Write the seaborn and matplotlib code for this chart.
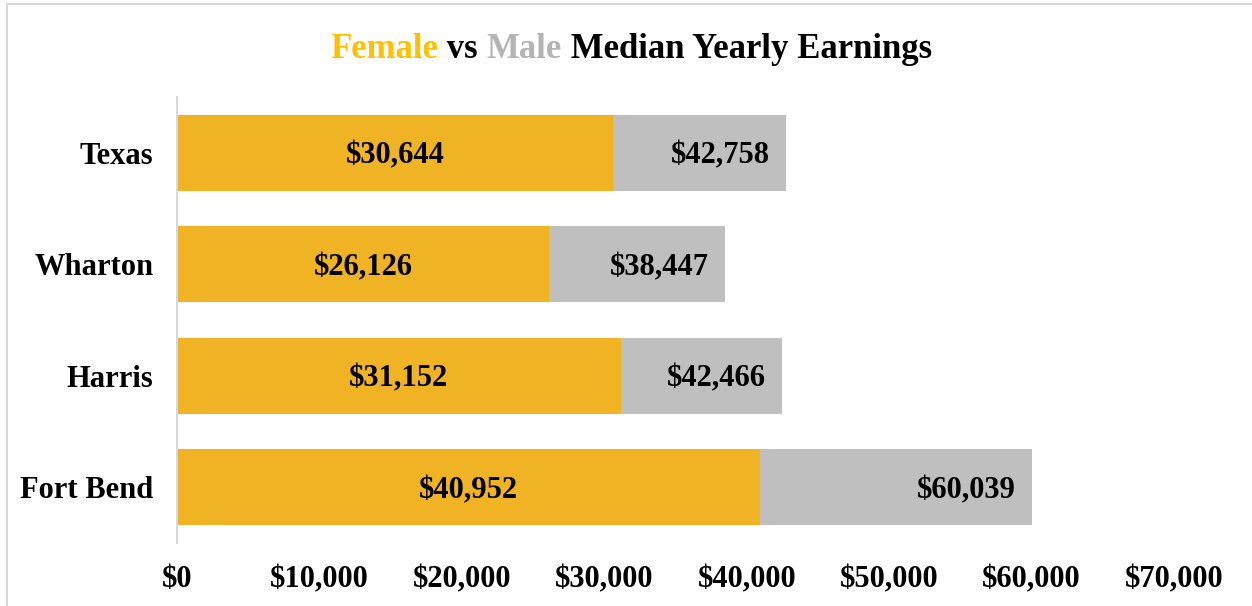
import matplotlib
matplotlib.use("Agg")
import matplotlib.pyplot as plt
import seaborn as sns
import pandas as pd
from matplotlib.lines import Line2D

# ── Data ─────────────────────────────────────────────────────────────────────
counties = ["Texas", "Wharton", "Harris", "Fort Bend"]
female_earnings = [30644, 26126, 31152, 40952]
male_earnings = [42758, 38447, 42466, 60039]
x_ticks = [0, 10000, 20000, 30000, 40000, 50000, 60000, 70000]

FEMALE_COLOR = "#F0B323"
MALE_COLOR = "#BFBFBF"
TITLE_FEMALE = "#FFC000"
TITLE_MALE = "#B4B4B4"
FONT = ["Liberation Serif", "DejaVu Serif"]

sns.set_style("white")
plt.rcParams["font.family"] = FONT
plt.rcParams["font.weight"] = "bold"

df = pd.DataFrame({"county": counties, "female": female_earnings, "male": male_earnings})

fig = plt.figure(figsize=(12.52, 6.06), dpi=100)
ax = fig.add_axes([0.1414, 0.104, 0.7963, 0.7359])

# male bar sits behind, female overlaid from zero
sns.barplot(data=df, y="county", x="male", color=MALE_COLOR, width=0.68,
            saturation=1, linewidth=0, ax=ax, orient="h")
sns.barplot(data=df, y="county", x="female", color=FEMALE_COLOR, width=0.68,
            saturation=1, linewidth=0, ax=ax, orient="h")

ax.set_xlim(0, 70000)
ax.set_ylim(3.5, -0.5)
ax.set_xticks(x_ticks)
ax.set_xticklabels([f"${v:,.0f}" for v in x_ticks], fontsize=22,
                   fontweight="bold", color="black")
ax.set_yticks(range(len(counties)))
ax.set_yticklabels(counties, fontsize=22, fontweight="bold", color="black")
ax.tick_params(axis="x", length=0, pad=16)
ax.tick_params(axis="y", length=0, pad=17)
ax.set_xlabel("")
ax.set_ylabel("")
for side in ["top", "right", "bottom"]:
    ax.spines[side].set_visible(False)
ax.spines["left"].set_color("#D9D9D9")
ax.spines["left"].set_linewidth(1.5)

# value labels
px = 70000 / 997.0
for i, (f, m) in enumerate(zip(female_earnings, male_earnings)):
    ax.text(f / 2, i + 0.03, f"${f:,}", ha="center", va="center", fontsize=22,
            fontweight="bold", color="black")
    ax.text(m - 16 * px, i + 0.03, f"${m:,}", ha="right", va="center", fontsize=22,
            fontweight="bold", color="black")

# multi-coloured title
parts = [("Female", TITLE_FEMALE), (" vs ", "black"), ("Male", TITLE_MALE),
         (" Median Yearly Earnings", "black")]
fig.canvas.draw()
renderer = fig.canvas.get_renderer()
texts = []
total_w = 0
for s, c in parts:
    t = fig.text(0, 1 - 49 / 606, s, color=c, fontsize=25, fontweight="bold",
                 ha="left", va="center")
    w = t.get_window_extent(renderer).width
    texts.append((t, w))
    total_w += w
x0 = (631 - total_w / 2) / 1252
for t, w in texts:
    t.set_x(x0)
    x0 += w / 1252

# chart-area border (left and top visible)
fig.add_artist(Line2D([7 / 1252, 7 / 1252], [0, 1 - 4 / 606], color="#D9D9D9",
                      lw=1.5, transform=fig.transFigure))
fig.add_artist(Line2D([7 / 1252, 1], [1 - 4 / 606, 1 - 4 / 606], color="#D9D9D9",
                      lw=1.5, transform=fig.transFigure))

fig.savefig("out.png", dpi=100)
